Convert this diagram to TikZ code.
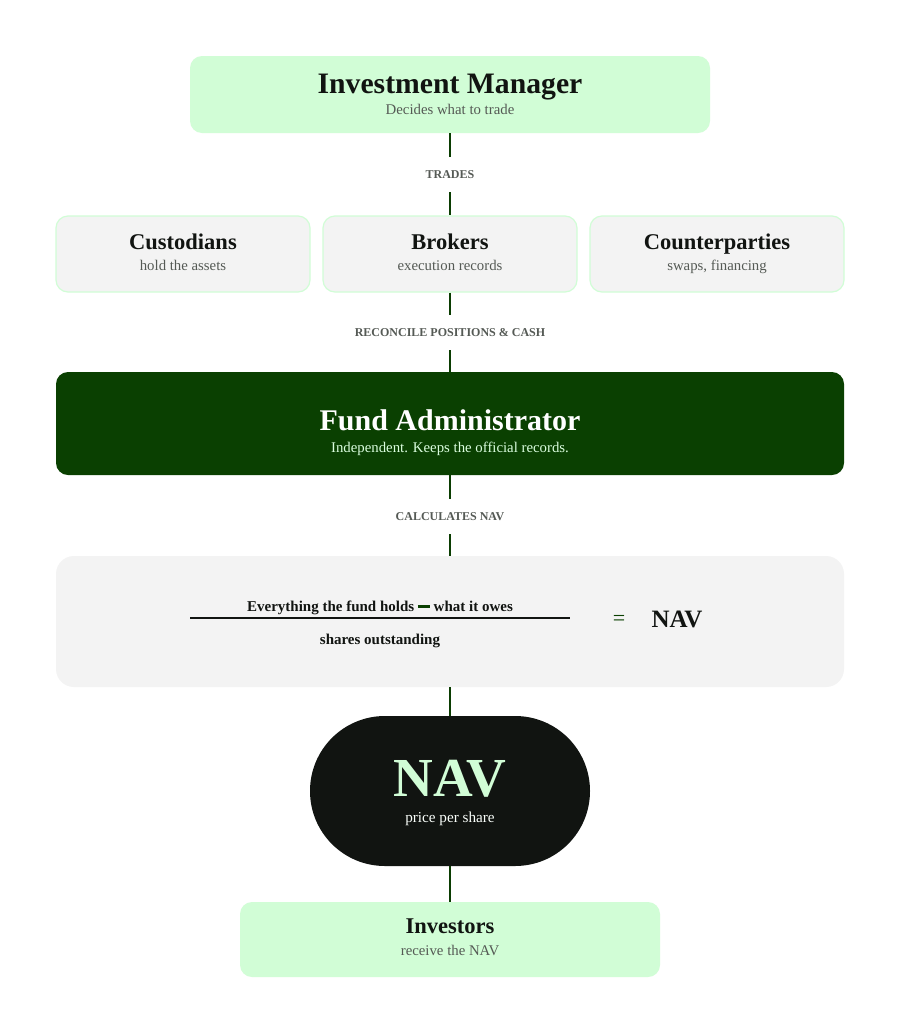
\documentclass[tikz,border=0pt]{standalone}
\usepackage{fontspec}
\setmainfont{Liberation Serif}
\usepackage{tikz}
\usetikzlibrary{positioning}

\definecolor{mint}{HTML}{D1FDD6}
\definecolor{paper}{HTML}{F3F3F3}
\definecolor{forest}{HTML}{0A4001}
\definecolor{ink}{HTML}{111411}
\definecolor{muted}{HTML}{555A55}
\definecolor{wire}{HTML}{0B3D02}

\tikzset{
  card/.style={rounded corners=12pt, inner sep=0pt},
  title/.style={font=\bfseries\fontsize{22.5}{24}\selectfont, text=ink, inner sep=0pt, text height=15pt, text depth=0pt},
  sub/.style={font=\fontsize{14.8}{16}\selectfont, text=muted, inner sep=0pt, text height=10pt, text depth=0pt},
  flowlabel/.style={font=\bfseries\fontsize{12}{14}\selectfont, text=muted, minimum height=35pt, inner sep=0pt, text height=8pt, text depth=0pt},
  link/.style={wire, line width=1.6pt}
}

\begin{document}
\begin{tikzpicture}[x=1pt, y=-1pt]

\useasboundingbox[fill=white] (0,0) rectangle (900,1034);

% -------- boxes -----------
\node [card, fill=mint, minimum width=520pt, minimum height=77pt] (manager) at (450, 94.5) {};
\node [card, fill=paper, draw=mint, line width=1.2pt, minimum width=254pt, minimum height=76pt] (custodians) at (183, 254) {};
\node [card, fill=paper, draw=mint, line width=1.2pt, minimum width=254pt, minimum height=76pt] (brokers) at (450, 254) {};
\node [card, fill=paper, draw=mint, line width=1.2pt, minimum width=254pt, minimum height=76pt] (counter) at (717, 254) {};
\node [card, fill=forest, minimum width=788pt, minimum height=103pt] (admin) at (450, 423.5) {};
\node [rounded corners=18pt, fill=paper, inner sep=0pt, minimum width=788pt, minimum height=131pt] (formula) at (450, 621.5) {};
\node [rounded corners=74.9pt, fill=ink, inner sep=0pt, minimum width=280pt, minimum height=150pt] (nav) at (450, 791) {};
\node [card, fill=mint, minimum width=420pt, minimum height=75pt] (investors) at (450, 939.5) {};

% -------- texts -----------
\node [title, font=\bfseries\fontsize{29.7}{31}\selectfont, text height=19.6pt] (managerT) at (450, 84) {Investment Manager};
\node [sub] (managerS) at (450, 109) {Decides what to trade};

\node [title] (custodiansT) at (183, 241.5) {Custodians};
\node [sub] (custodiansS) at (183, 265) {hold the assets};
\node [title] (brokersT) at (450, 241.5) {Brokers};
\node [sub] (brokersS) at (450, 265) {execution records};
\node [title] (counterT) at (717, 241.5) {Counterparties};
\node [sub] (counterS) at (717, 265) {swaps, financing};

\node [title, text=white, font=\bfseries\fontsize{30}{32}\selectfont, text height=19.8pt] (adminT) at (450, 421) {Fund Administrator};
\node [sub, text=mint!80!white] (adminS) at (450, 447) {Independent. Keeps the official records.};

\node [sub, font=\bfseries\fontsize{15}{17}\selectfont, text=ink] (numer) at (380, 606.5)
  {Everything the fund holds {\color{forest}\rule[0.55ex]{12pt}{2.5pt}} what it owes};
\node [sub, font=\bfseries\fontsize{15}{17}\selectfont, text=ink] (denom) at (380, 639) {shares outstanding};
\draw [ink, line width=1.6pt] (190, 618) -- (570, 618);
\node [font=\fontsize{22}{24}\selectfont, text=forest, inner sep=0pt] (equals) at (619, 620) {=};
\node [sub, font=\bfseries\fontsize{25}{27}\selectfont, text=ink, text height=16.5pt] (navF) at (677, 619) {NAV};

\node [sub, font=\bfseries\fontsize{55}{57}\selectfont, text=mint, text height=36.4pt] (navT) at (450, 778) {NAV};
\node [sub, font=\fontsize{15.2}{17}\selectfont, text=white!90!mint] (navS) at (450, 817) {price per share};

\node [title] (investorsT) at (450, 925.5) {Investors};
\node [sub] (investorsS) at (450, 950) {receive the NAV};

% -------- connectors -----------
\node [flowlabel] (trades) at (450, 174.5) {TRADES};
\node [flowlabel] (reconcile) at (450, 332.5) {RECONCILE POSITIONS \& CASH};
\node [flowlabel] (calc) at (450, 516.5) {CALCULATES NAV};

\draw [link] (manager.south) -- (trades.north);
\draw [link] (trades.south) -- (brokers.north);
\draw [link] (brokers.south) -- (reconcile.north);
\draw [link] (reconcile.south) -- (admin.north);
\draw [link] (admin.south) -- (calc.north);
\draw [link] (calc.south) -- (formula.north);
\draw [link] (formula.south) -- (nav.north);
\draw [link] (nav.south) -- (investors.north);

\end{tikzpicture}
\end{document}
